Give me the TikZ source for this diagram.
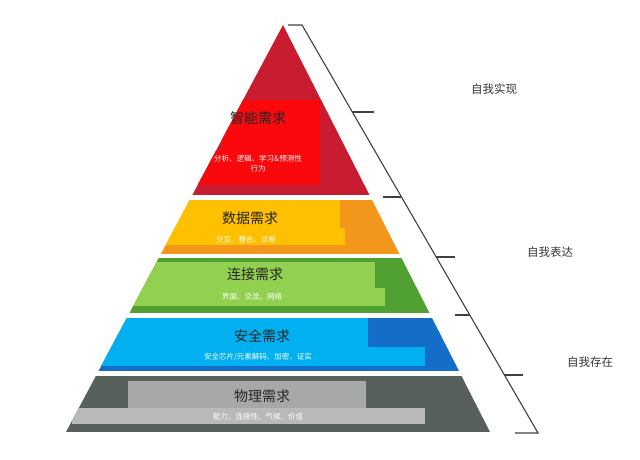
\documentclass[tikz,border=0pt]{standalone}
\usepackage{fontspec}
\setmainfont{Noto Sans CJK SC}
\usepackage{xcolor}
\definecolor{redDark}{RGB}{200,28,48}
\definecolor{redLight}{RGB}{250,8,12}
\definecolor{yelDark}{RGB}{242,150,28}
\definecolor{yelLight}{RGB}{255,192,0}
\definecolor{grnDark}{RGB}{80,160,50}
\definecolor{grnLight}{RGB}{146,208,80}
\definecolor{bluDark}{RGB}{20,110,200}
\definecolor{bluLight}{RGB}{0,176,240}
\definecolor{gryDark}{RGB}{88,96,92}
\definecolor{gryLight}{RGB}{168,168,168}
\tikzset{
  title/.style={font=\fontsize{14}{14}\selectfont, text=black!85},
  sub/.style={font=\fontsize{7.5}{10}\selectfont, text=white, align=center},
  side/.style={font=\fontsize{11.5}{11.5}\selectfont, text=black!80},
  brace/.style={draw=black!75, line width=1.1pt}
}
\begin{document}
\begin{tikzpicture}[x=1pt,y=-1pt]
                \useasboundingbox (0,0) rectangle (640,459);
                % Pyramid layers
                \begin{scope}
                \clip (283,25) -- (490,432) -- (66,432) -- cycle;
                \fill[redDark] (0,25) rectangle (640,195);
                \fill[redLight] (222,100) rectangle (320,150);
                \fill[redLight] (195,150) rectangle (320,185);
                \fill[yelDark] (0,200) rectangle (640,254);
                \fill[yelLight] (0,200) rectangle (340,228);
                \fill[yelLight] (0,228) rectangle (345,245);
                \fill[grnDark] (0,258) rectangle (640,313);
                \fill[grnLight] (120,262) rectangle (375,288);
                \fill[grnLight] (105,288) rectangle (385,306);
                \fill[bluDark] (0,318) rectangle (640,371);
                \fill[bluLight] (0,318) rectangle (368,347);
                \fill[bluLight] (75,347) rectangle (425,366);
                \fill[gryDark] (0,376) rectangle (640,432);
                \fill[gryLight] (128,381) rectangle (366,408);
                \fill[gryLight!80!white] (72,408) rectangle (425,424);
                \end{scope}
                % Titles
                \node[title] (tZn) at (258,118) {智能需求};
                \node[sub] (sZn) at (258,164) {分析、逻辑、学习\&预测性\\行为};
                \node[title] (tSj) at (250,218) {数据需求};
                \node[sub] (sSj) at (246,240) {交互、整合、诊断};
                \node[title] (tLj) at (255,274) {连接需求};
                \node[sub] (sLj) at (252,297) {界面、交流、网络};
                \node[title] (tAq) at (262,336) {安全需求};
                \node[sub] (sAq) at (258,357) {安全芯片/元素解码、加密、证实};
                \node[title] (tWl) at (262,396) {物理需求};
                \node[sub] (sWl) at (258,417) {能力、连接性、气候、价值};
                % Bracket
                \coordinate (bTop) at (302,25);
                \coordinate (bBot) at (538,433);
                \draw[brace] (288,25) -- (bTop) -- (bBot) -- (515,433);
                \draw[brace] (352,112) -- (374,112);
                \draw[brace] (383,197) -- (401,197);
                \draw[brace] (436,257) -- (455,257);
                \draw[brace] (455,315) -- (470,315);
                \draw[brace] (504,375) -- (523,375);
                % Side labels
                \node[side] (lSx) at (494,89) {自我实现};
                \node[side] (lBd) at (550,252) {自我表达};
                \node[side] (lCz) at (590,362) {自我存在};
\end{tikzpicture}
\end{document}
